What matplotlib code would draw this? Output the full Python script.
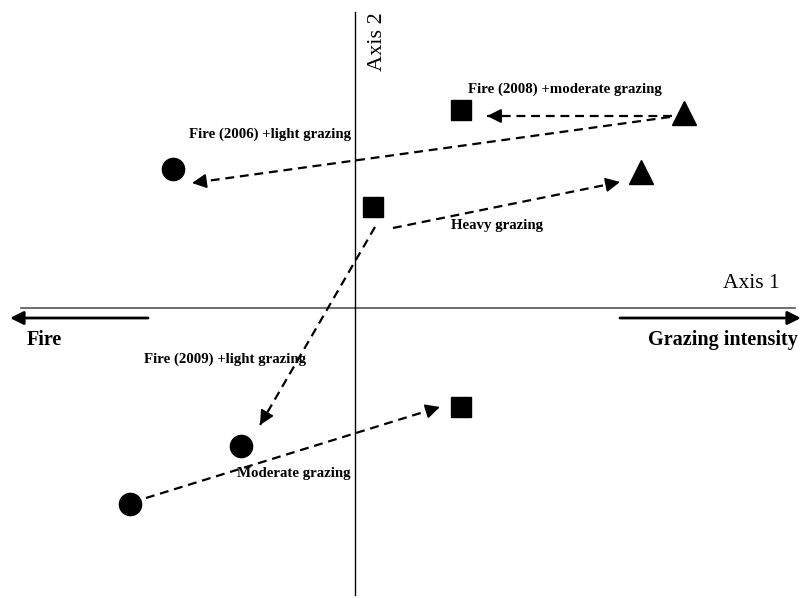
import matplotlib
matplotlib.use("Agg")
import matplotlib.pyplot as plt

# Ordination scores (Axis 1, Axis 2)
circle_x = [-1.82, -1.14, -2.25]
circle_y = [1.39, -1.38, -1.96]
square_x = [1.06, 0.18, 1.06]
square_y = [1.98, 1.01, -0.99]
triangle_x = [3.29, 2.86]
triangle_y = [1.95, 1.36]

# Arrows: (start x, start y, end x, end y, label)
arrow_x0 = [3.17, 3.15, 0.38, 0.20, -2.09]
arrow_y0 = [1.92, 1.91, 0.80, 0.81, -1.90]
arrow_x1 = [1.32, -1.63, 2.65, -0.95, 0.85]
arrow_y1 = [1.92, 1.25, 1.26, -1.17, -0.99]
labels = ["Fire (2008) +moderate grazing", "Fire (2006) +light grazing",
          "Heavy grazing", "Fire (2009) +light grazing", "Moderate grazing"]
label_x = [1.13, -1.66, 0.96, -2.11, -1.18]
label_y = [2.19, 1.74, 0.83, -0.51, -1.65]

plt.rcParams['font.family'] = ['Liberation Serif', 'DejaVu Serif']

fig = plt.figure(figsize=(8.02, 5.98), dpi=100)
ax = fig.add_axes([0, 0, 1, 1])
ax.set_xlim(-3.55, 4.47)
ax.set_ylim(-2.90, 3.08)
ax.axis('off')

# axes lines
ax.plot([-3.34, 4.40], [0, 0], color='#555555', lw=1.2)
ax.plot([0, 0], [-2.87, 2.96], color='black', lw=1.0)

# direction arrows
ax.annotate('', xy=(-3.45, -0.10), xytext=(-2.07, -0.10),
            arrowprops=dict(arrowstyle='-|>', color='black', lw=2,
                            mutation_scale=20, shrinkA=0, shrinkB=0))
ax.annotate('', xy=(4.46, -0.10), xytext=(2.65, -0.10),
            arrowprops=dict(arrowstyle='-|>', color='black', lw=2,
                            mutation_scale=20, shrinkA=0, shrinkB=0))
ax.text(-3.28, -0.32, 'Fire', fontsize=14.5, fontweight='bold', ha='left', va='center')
ax.text(4.43, -0.32, 'Grazing intensity', fontsize=14.5, fontweight='bold', ha='right', va='center')
ax.text(4.25, 0.25, 'Axis 1', fontsize=15.5, ha='right', va='center')
ax.text(0.23, 2.66, 'Axis 2', fontsize=16, rotation=90, ha='center', va='center')

# trajectory arrows
for x0, y0, x1, y1 in zip(arrow_x0, arrow_y0, arrow_x1, arrow_y1):
    ax.plot([x0, x1], [y0, y1], color='black', lw=1.6, linestyle=(0, (4, 2.6)))
    dx, dy = x1 - x0, y1 - y0
    ax.annotate('', xy=(x1, y1), xytext=(x1 - dx * 0.02, y1 - dy * 0.02),
                arrowprops=dict(arrowstyle='-|>', color='black', lw=1.2,
                                mutation_scale=22, shrinkA=0, shrinkB=0))

for lx, ly, t in zip(label_x, label_y, labels):
    ax.text(lx, ly, t, fontsize=10.7, fontweight='bold', ha='left', va='center')

ax.plot(circle_x, circle_y, 'o', color='black', markersize=16, linestyle='none')
ax.plot(square_x, square_y, 's', color='black', markersize=15, linestyle='none')
ax.plot(triangle_x, triangle_y, '^', color='black', markersize=17, linestyle='none')

fig.savefig('out.png', dpi=100)
